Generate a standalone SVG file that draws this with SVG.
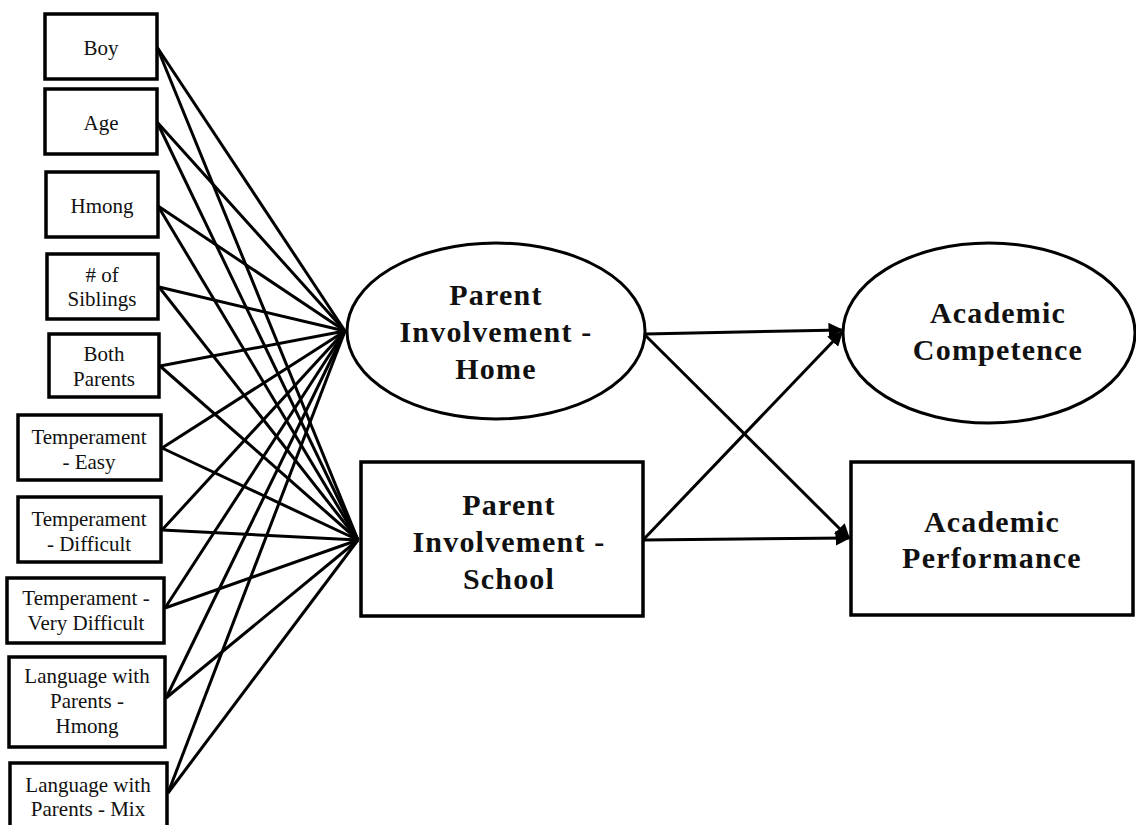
<svg xmlns="http://www.w3.org/2000/svg" width="1136" height="825" viewBox="0 0 1136 825">
<style>
.box{fill:#fff;stroke:#000;stroke-width:3.5}
.big{fill:#fff;stroke:#000;stroke-width:3}
.ln{stroke:#000;stroke-width:3;fill:none}
.s{font-family:"Liberation Serif",serif;font-size:21px;text-anchor:middle;fill:#111}
.b{font-family:"Liberation Serif",serif;font-size:30px;font-weight:bold;letter-spacing:1.2px;text-anchor:middle;fill:#111}
</style>
<defs>
<marker id="ah" viewBox="0 0 10 10" refX="9" refY="5" markerWidth="5" markerHeight="5" orient="auto" markerUnits="strokeWidth">
<path d="M0,0 L10,5 L0,10 z" fill="#000"/>
</marker>
</defs>
<rect width="1136" height="825" fill="#fff"/>
<g id="connectors">
<line class="ln" x1="157" y1="47" x2="345" y2="331"/>
<line class="ln" x1="157" y1="47" x2="358" y2="540"/>
<line class="ln" x1="157" y1="122" x2="345" y2="331"/>
<line class="ln" x1="157" y1="122" x2="358" y2="540"/>
<line class="ln" x1="158" y1="206" x2="345" y2="331"/>
<line class="ln" x1="158" y1="206" x2="358" y2="540"/>
<line class="ln" x1="159" y1="287" x2="345" y2="331"/>
<line class="ln" x1="159" y1="287" x2="358" y2="540"/>
<line class="ln" x1="160" y1="366" x2="345" y2="331"/>
<line class="ln" x1="160" y1="366" x2="358" y2="540"/>
<line class="ln" x1="162" y1="448" x2="345" y2="331"/>
<line class="ln" x1="162" y1="448" x2="358" y2="540"/>
<line class="ln" x1="162" y1="530" x2="345" y2="331"/>
<line class="ln" x1="162" y1="530" x2="358" y2="540"/>
<line class="ln" x1="165" y1="608" x2="345" y2="331"/>
<line class="ln" x1="165" y1="608" x2="358" y2="540"/>
<line class="ln" x1="166" y1="698" x2="345" y2="331"/>
<line class="ln" x1="166" y1="698" x2="358" y2="540"/>
<line class="ln" x1="168" y1="793" x2="345" y2="331"/>
<line class="ln" x1="168" y1="793" x2="358" y2="540"/>
<line class="ln" x1="645" y1="334" x2="842" y2="330" marker-end="url(#ah)"/>
<line class="ln" x1="645" y1="335" x2="849" y2="538" marker-end="url(#ah)"/>
<line class="ln" x1="643" y1="540" x2="849" y2="538" marker-end="url(#ah)"/>
<line class="ln" x1="643" y1="540" x2="842" y2="332" marker-end="url(#ah)"/>
</g>
<g id="boy"><rect class="box" x="45" y="14" width="112" height="65"/><text class="s" x="101" y="55">Boy</text></g>
<g id="age"><rect class="box" x="45" y="89" width="112" height="65"/><text class="s" x="101" y="130">Age</text></g>
<g id="hmong"><rect class="box" x="46" y="172" width="112" height="65"/><text class="s" x="102" y="213">Hmong</text></g>
<g id="siblings"><rect class="box" x="47" y="254" width="111" height="65"/><text class="s" x="102" y="282"># of</text><text class="s" x="102" y="306">Siblings</text></g>
<g id="bothparents"><rect class="box" x="49" y="334" width="110" height="63"/><text class="s" x="104" y="361">Both</text><text class="s" x="104" y="386">Parents</text></g>
<g id="tempeasy"><rect class="box" x="18" y="415" width="143" height="65"/><text class="s" x="89" y="444">Temperament</text><text class="s" x="89" y="469">- Easy</text></g>
<g id="tempdifficult"><rect class="box" x="18" y="497" width="143" height="65"/><text class="s" x="89" y="526">Temperament</text><text class="s" x="89" y="551">- Difficult</text></g>
<g id="tempverydifficult"><rect class="box" x="7" y="578" width="157" height="65"/><text class="s" x="86" y="605">Temperament -</text><text class="s" x="86" y="630">Very Difficult</text></g>
<g id="langhmong"><rect class="box" x="9" y="657" width="156" height="90"/><text class="s" x="87" y="683">Language with</text><text class="s" x="87" y="708">Parents -</text><text class="s" x="87" y="733">Hmong</text></g>
<g id="langmix"><rect class="box" x="10" y="763" width="157" height="66"/><text class="s" x="88" y="792">Language with</text><text class="s" x="88" y="816">Parents - Mix</text></g>
<g id="pihome"><ellipse class="big" cx="496" cy="331" rx="149" ry="88"/><text class="b" x="496" y="305">Parent</text><text class="b" x="496" y="342">Involvement -</text><text class="b" x="496" y="379">Home</text></g>
<g id="pischool"><rect class="box" x="361" y="462" width="282" height="154"/><text class="b" x="509" y="515">Parent</text><text class="b" x="509" y="552">Involvement -</text><text class="b" x="509" y="589">School</text></g>
<g id="competence"><ellipse class="big" cx="989" cy="333" rx="146" ry="90"/><text class="b" x="998" y="323">Academic</text><text class="b" x="998" y="360">Competence</text></g>
<g id="performance"><rect class="box" x="851" y="462" width="282" height="153"/><text class="b" x="992" y="532">Academic</text><text class="b" x="992" y="568">Performance</text></g>
</svg>
